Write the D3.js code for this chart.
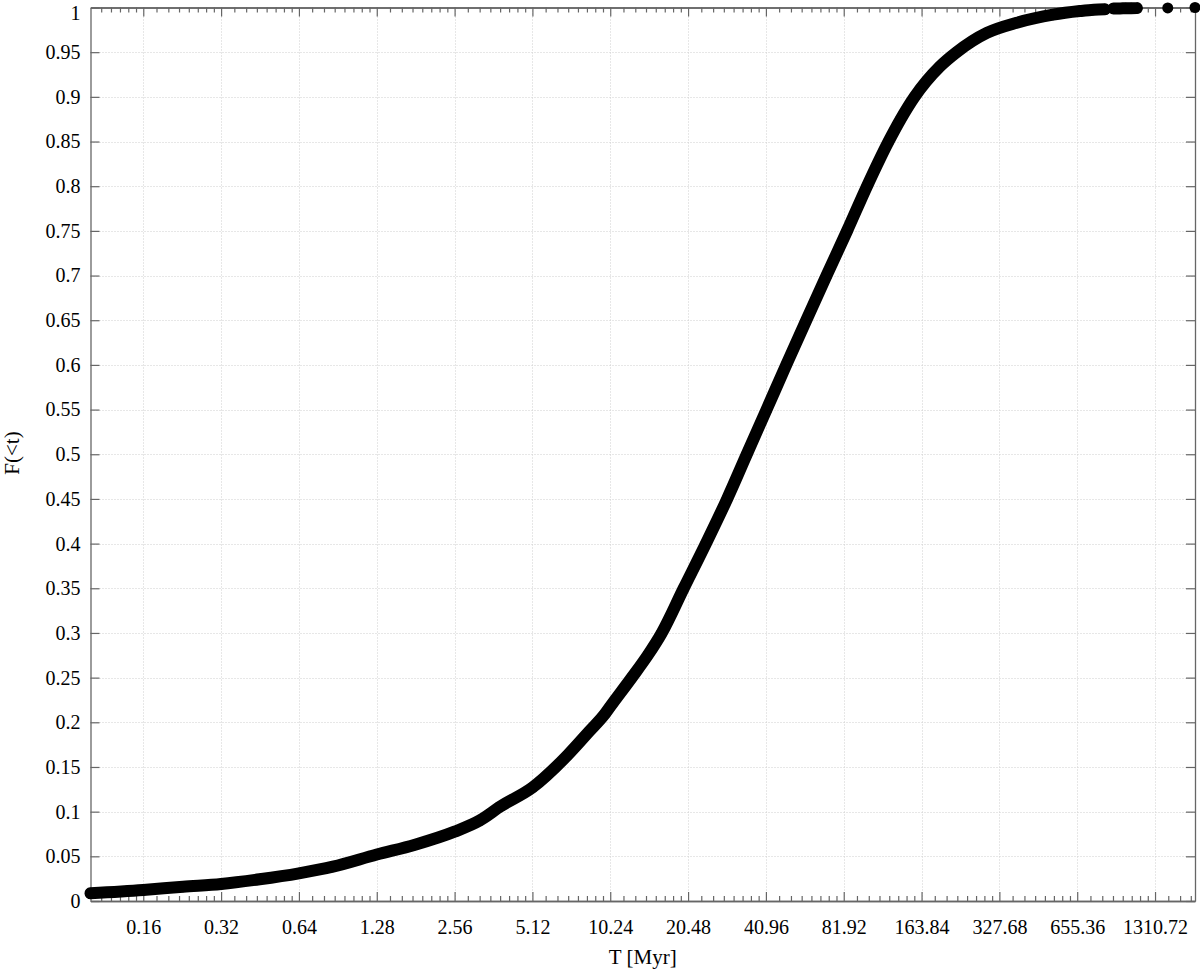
<!DOCTYPE html>
<meta charset="utf-8">

<head>
  <title>F(<t) vs T</title>
</head>

<style>
  body { margin: 0; background: #fff; }
  text { font-family: "Liberation Serif", "DejaVu Serif", serif; fill: #000; }
</style>

<body>
  <svg width="1200" height="973"></svg>

  <script src="https://cdn.jsdelivr.net/npm/d3@7"></script>
  <script>
    // dense part of the cumulative curve (T in Myr, F fraction)
    var runT = [0.1, 0.16, 0.228, 0.32, 0.451, 0.64, 0.866, 1.28, 1.8, 2.56, 3.2, 3.86, 5.12, 6.99, 8.5,
      9.8, 10.24, 12.4, 14.3, 16.2, 19.7, 24.0, 29.0, 34.55, 41.2, 49.1, 58.7, 70.3, 84.4,
      100.8, 122.1, 136, 153.9, 192.9, 223.8, 293, 382.7, 528.6, 671, 760, 839];
    var runF = [0.0086, 0.0123, 0.016, 0.019, 0.0243, 0.031, 0.0384, 0.052, 0.063, 0.0776, 0.09, 0.106, 0.127, 0.163, 0.19,
      0.21, 0.2176, 0.25, 0.275, 0.30, 0.35, 0.40, 0.45, 0.50, 0.55, 0.60, 0.65, 0.70, 0.75,
      0.80, 0.85, 0.875, 0.90, 0.934, 0.95, 0.9716, 0.983, 0.992, 0.996, 0.9975, 0.998];
    // small cluster and lone points at the far right
    var clusterT = [905, 960, 1010, 1060, 1115];
    var clusterF = [0.999, 0.999, 0.9992, 0.9992, 0.9993];
    var tailT = [1468, 1871];
    var tailF = [0.9995, 1.0];

    var xTicks = [0.16, 0.32, 0.64, 1.28, 2.56, 5.12, 10.24, 20.48, 40.96, 81.92, 163.84, 327.68, 655.36, 1310.72];
    var xLabels = ['0.16', '0.32', '0.64', '1.28', '2.56', '5.12', '10.24', '20.48', '40.96', '81.92', '163.84', '327.68', '655.36', '1310.72'];
    var yTicks = [0, 0.05, 0.1, 0.15, 0.2, 0.25, 0.3, 0.35, 0.4, 0.45, 0.5, 0.55, 0.6, 0.65, 0.7, 0.75, 0.8, 0.85, 0.9, 0.95, 1];
    var yLabels = ['0', '0.05', '0.1', '0.15', '0.2', '0.25', '0.3', '0.35', '0.4', '0.45', '0.5', '0.55', '0.6', '0.65', '0.7', '0.75', '0.8', '0.85', '0.9', '0.95', '1'];

    var pLeft = 90.5, pRight = 1195, pTop = 7.5, pBottom = 901;
    var axisColor = '#666';

    var x = d3.scaleLog().base(2).domain([0.1, 1871]).range([pLeft, pRight]);
    var y = d3.scaleLinear().domain([0, 1]).range([pBottom, pTop]);

    // minor x ticks: 7 linear steps inside each doubling
    var minor = [];
    [0.08].concat(xTicks).forEach(function (a) {
      for (var k = 1; k < 8; k++) {
        var v = a + k * a / 8;
        if (v > 0.1 && v < 1871) minor.push(v);
      }
    });

    var svg = d3.select('svg');

    // dotted grid
    var grid = svg.append('g').attr('stroke', '#cfcfcf').attr('stroke-dasharray', '1,2').attr('stroke-width', 1);
    grid.selectAll('.gx').data(xTicks).enter().append('line')
      .attr('x1', d => Math.round(x(d)) + 0.5).attr('x2', d => Math.round(x(d)) + 0.5)
      .attr('y1', pTop).attr('y2', pBottom);
    grid.selectAll('.gy').data(yTicks.slice(1, -1)).enter().append('line')
      .attr('y1', d => Math.round(y(d)) + 0.5).attr('y2', d => Math.round(y(d)) + 0.5)
      .attr('x1', pLeft).attr('x2', pRight);

    function styleAxis(g) {
      g.select('.domain').attr('stroke', axisColor).attr('stroke-width', 1.3);
      g.selectAll('.tick line').attr('stroke', axisColor).attr('stroke-width', 1.2);
      g.selectAll('.tick text').attr('font-size', 20).attr('font-family', '"Liberation Serif", serif').attr('fill', '#000');
    }

    // bottom axis
    svg.append('g').attr('transform', 'translate(0,' + pBottom + ')')
      .call(d3.axisBottom(x).tickValues(minor).tickSize(-5).tickSizeOuter(0).tickFormat(''))
      .call(styleAxis);
    svg.append('g').attr('transform', 'translate(0,' + pBottom + ')')
      .call(d3.axisBottom(x).tickValues(xTicks).tickSize(-9).tickSizeOuter(0).tickPadding(19)
        .tickFormat((d, i) => xLabels[i]))
      .call(styleAxis);
    // top axis
    svg.append('g').attr('transform', 'translate(0,' + pTop + ')')
      .call(d3.axisTop(x).tickValues(minor).tickSize(-5).tickSizeOuter(0).tickFormat(''))
      .call(styleAxis);
    svg.append('g').attr('transform', 'translate(0,' + pTop + ')')
      .call(d3.axisTop(x).tickValues(xTicks).tickSize(-9).tickSizeOuter(0).tickFormat(''))
      .call(styleAxis);
    // left and right axes
    var yAxisG = svg.append('g').attr('transform', 'translate(' + pLeft + ',0)')
      .call(d3.axisLeft(y).tickValues(yTicks).tickSize(-9).tickSizeOuter(0).tickPadding(10)
        .tickFormat((d, i) => yLabels[i]))
      .call(styleAxis);
    // keep the top label inside the picture
    yAxisG.selectAll('.tick text').filter(d => d === 1).attr('dy', '0.58em');
    svg.append('g').attr('transform', 'translate(' + pRight + ',0)')
      .call(d3.axisRight(y).tickValues(yTicks).tickSize(-9).tickSizeOuter(0).tickFormat(''))
      .call(styleAxis);

    // axis titles
    svg.append('text').attr('x', (pLeft + pRight) / 2).attr('y', 964)
      .attr('text-anchor', 'middle').attr('font-size', 21).text('T [Myr]');
    svg.append('text').attr('transform', 'translate(19,453) rotate(-90)')
      .attr('text-anchor', 'middle').attr('font-size', 21).text('F(<t)');

    // data: dense band drawn as thick line plus markers
    var run = runT.map((t, i) => [t, runF[i]]);
    var cluster = clusterT.map((t, i) => [t, clusterF[i]]);
    var tail = tailT.map((t, i) => [t, tailF[i]]);

    var line = d3.line().x(d => x(d[0])).y(d => y(d[1])).curve(d3.curveMonotoneX);
    var marks = svg.append('g');
    [run, cluster].forEach(function (s) {
      marks.append('path').datum(s).attr('d', line)
        .attr('fill', 'none').attr('stroke', '#000').attr('stroke-width', 12)
        .attr('stroke-linecap', 'round').attr('stroke-linejoin', 'round');
    });
    marks.selectAll('circle').data(run.concat(cluster, tail)).enter().append('circle')
      .attr('cx', d => x(d[0])).attr('cy', d => y(d[1])).attr('r', 5.5).attr('fill', '#000');
  </script>
</body>

</html>
